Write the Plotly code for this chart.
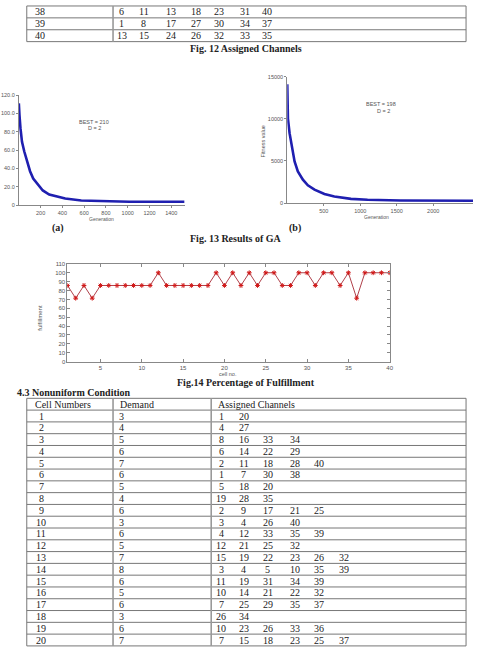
import plotly.graph_objects as go

W, H = 477, 650

def px(x):
    return x / W

def py(y):
    return 1 - y / H

# ---------------- data ----------------
# Fig 12 table tail
top_cells = ["38", "39", "40"]
top_channels = [
    ["6", "11", "13", "18", "23", "31", "40"],
    ["1", "8", "17", "27", "30", "34", "37"],
    ["13", "15", "24", "26", "32", "33", "35"],
]

# Fig 13 (a) GA convergence
ga_a_gen = [0, 2, 6, 15, 29, 50, 74, 103, 132, 176, 220, 279, 353, 426, 573, 720, 1014, 1308, 1520]
ga_a_val = [111, 104, 98, 84, 69, 58.5, 48, 37, 29, 22, 16, 11.6, 9, 7.2, 5, 4.3, 3.6, 3.6, 3.6]
ga_a_xticks = [200, 400, 600, 800, 1000, 1200, 1400]
ga_a_yticks = [0, 20, 40, 60, 80, 100, 120]
ga_a_ytext = ["0", "20.0", "40.0", "60.0", "80.0", "100.0", "120.0"]

# Fig 13 (b) GA convergence
ga_b_gen = [0, 2, 5, 9, 32, 64, 100, 145, 214, 282, 373, 509, 645, 873, 1100, 1554, 2009, 2545]
ga_b_val = [14100, 13000, 12000, 10025, 8263, 6500, 4934, 3760, 2780, 2115, 1605, 1096, 783, 509, 392, 313, 274, 274]
ga_b_xticks = [500, 1000, 1500, 2000]
ga_b_yticks = [0, 5000, 10000, 15000]

# Fig 14 percentage of fulfillment
cells = list(range(1, 41))
fulfil = [85.7, 71.4, 85.7, 71.4, 85.7, 85.7, 85.7, 85.7, 85.7, 85.7,
          85.7, 100, 85.7, 85.7, 85.7, 85.7, 85.7, 85.7, 100, 85.7,
          100, 85.7, 100, 85.7, 100, 100, 85.7, 85.7, 100, 100,
          85.7, 100, 100, 85.7, 100, 71.4, 100, 100, 100, 100]
f_yticks = list(range(0, 111, 10))
f_xticks = [5, 10, 15, 20, 25, 30, 35, 40]

# 4.3 Nonuniform table
headers = ["Cell Numbers", "Demand", "Assigned Channels"]
nu_cells = [str(i) for i in range(1, 21)]
nu_demand = ["3", "4", "5", "6", "7", "6", "5", "4", "6", "3",
             "6", "5", "7", "8", "6", "5", "6", "3", "6", "7"]
nu_assigned = [
    ["1", "20"], ["4", "27"], ["8", "16", "33", "34"], ["6", "14", "22", "29"],
    ["2", "11", "18", "28", "40"], ["1", "7", "30", "38"], ["5", "18", "20"],
    ["19", "28", "35"], ["2", "9", "17", "21", "25"], ["3", "4", "26", "40"],
    ["4", "12", "33", "35", "39"], ["12", "21", "25", "32"],
    ["15", "19", "22", "23", "26", "32"], ["3", "4", "5", "10", "35", "39"],
    ["11", "19", "31", "34", "39"], ["10", "14", "21", "22", "32"],
    ["7", "25", "29", "35", "37"], ["26", "34"], ["10", "23", "26", "33", "36"],
    ["7", "15", "18", "23", "25", "37"],
]

# ---------------- figure ----------------
fig = go.Figure()

blue = "#1f1fb0"
fig.add_trace(go.Scatter(x=ga_a_gen, y=ga_a_val, mode="lines", line=dict(color=blue, width=2.6),
                         xaxis="x", yaxis="y", showlegend=False))
fig.add_trace(go.Scatter(x=ga_b_gen, y=ga_b_val, mode="lines", line=dict(color=blue, width=2.6),
                         xaxis="x2", yaxis="y2", showlegend=False))
fig.add_trace(go.Scatter(x=cells, y=fulfil, mode="lines+markers",
                         line=dict(color="#b0404a", width=1),
                         marker=dict(symbol="asterisk-open", size=4, color="#d01818",
                                     line=dict(width=1, color="#d01818")),
                         xaxis="x3", yaxis="y3", showlegend=False))

small = dict(family="Liberation Sans, Arial", size=5.5, color="#555")
tiny_axis = dict(showgrid=False, zeroline=False, showline=True, linecolor="#888", linewidth=1,
                 ticks="outside", ticklen=2, tickcolor="#888", tickfont=small)

serif = "Liberation Serif, Times New Roman"
f14font = dict(family="Liberation Sans, Arial", size=6, color="#555")

fig.update_layout(
    width=W, height=H, autosize=False,
    margin=dict(l=0, r=0, t=0, b=0),
    paper_bgcolor="white", plot_bgcolor="white",
    xaxis=dict(domain=[px(19), px(187)], range=[0, 1530], anchor="y",
               tickvals=ga_a_xticks, **tiny_axis),
    yaxis=dict(domain=[py(204), py(93)], range=[0, 120], anchor="x",
               tickvals=ga_a_yticks, ticktext=ga_a_ytext, **tiny_axis),
    xaxis2=dict(domain=[px(289.7), 1.0], range=[0, 2545], anchor="y2",
                tickvals=ga_b_xticks, tickformat="d", **tiny_axis),
    yaxis2=dict(domain=[py(202), py(74.3)], range=[0, 15000], anchor="x2",
                tickvals=ga_b_yticks, tickformat="d", **tiny_axis),
    xaxis3=dict(domain=[px(68), px(393)], range=[1, 40], anchor="y3",
                tickvals=f_xticks, showgrid=False, zeroline=False, showline=True,
                linecolor="#888", linewidth=1, mirror="ticks", ticks="inside", ticklen=3,
                tickcolor="#888", tickfont=f14font),
    yaxis3=dict(domain=[py(362), py(263.3)], range=[0, 110], anchor="x3",
                tickvals=f_yticks, showgrid=False, zeroline=False, showline=True,
                linecolor="#888", linewidth=1, mirror="ticks", ticks="inside", ticklen=3,
                tickcolor="#888", tickfont=f14font),
)

shapes = []
annotations = []

def hline(x0, x1, y, color="#777", w=1):
    shapes.append(dict(type="line", xref="paper", yref="paper", x0=px(x0), x1=px(x1),
                       y0=py(y), y1=py(y), line=dict(color=color, width=w)))

def vline(x, y0, y1, color="#777", w=1):
    shapes.append(dict(type="line", xref="paper", yref="paper", x0=px(x), x1=px(x),
                       y0=py(y0), y1=py(y1), line=dict(color=color, width=w)))

def text(x, y, s, size=10, anchor="left", bold=False, family=serif, color="#222", angle=0):
    annotations.append(dict(xref="paper", yref="paper", x=px(x), y=py(y),
                            text=("<b>%s</b>" % s) if bold else s, showarrow=False,
                            xanchor=anchor, yanchor="middle", textangle=angle,
                            font=dict(family=family, size=size, color=color)))

# ---- Top table (Fig 12 tail) ----
top_lines = [3, 15, 27, 39]
for y in top_lines:
    hline(27, 470, y)
vline(27, 3, 39)
vline(114, 3, 39, color="#999", w=1.6)
vline(470, 3, 39)
top_xs = [123, 145, 172, 198, 221, 247, 269]
for i, (c, chans) in enumerate(zip(top_cells, top_channels)):
    yc = 9 + i * 12
    text(33, yc, c)
    for j, ch in enumerate(chans):
        text(top_xs[j], yc, ch, anchor="center")
text(248, 46, "Fig. 12 Assigned Channels", bold=True, anchor="center")

# ---- Fig 13 labels ----
sans = "Liberation Sans, Arial"
text(95, 120, "BEST = 210", size=5.5, anchor="center", family=sans, color="#555")
text(95, 126.5, "D = 2", size=5.5, anchor="center", family=sans, color="#555")
text(102, 218, "Generation", size=5, anchor="center", family=sans, color="#555")
text(384, 102, "BEST = 198", size=5.5, anchor="center", family=sans, color="#555")
text(387, 109, "D = 2", size=5.5, anchor="center", family=sans, color="#555")
text(380, 216, "Generation", size=5, anchor="center", family=sans, color="#555")
text(265, 140, "Fitness value", size=5.5, anchor="center", family=sans, color="#555", angle=-90)
text(58, 227, "(a)", bold=True, anchor="center")
text(297, 227, "(b)", bold=True, anchor="center")
text(238, 238, "Fig. 13 Results of GA", bold=True, anchor="center")

# ---- Fig 14 labels ----
text(230, 374, "cell no.", size=5.5, anchor="center", family=sans, color="#555")
text(40, 318, "fulfillment", size=6, anchor="center", family=sans, color="#555", angle=-90)
text(248, 383, "Fig.14 Percentage of Fulfillment", bold=True, anchor="center")
text(15, 393.5, "4.3 Nonuniform Condition", bold=True)

# ---- Bottom table ----
rh = 11.9
ytop = 399
nrows = 21
for k in range(nrows + 1):
    hline(27, 470, ytop + k * rh)
ybot = ytop + nrows * rh
vline(27, ytop, ybot)
vline(114, ytop, ybot, color="#999", w=1.6)
vline(213, ytop, ybot, color="#999", w=1.6)
vline(470, ytop, ybot)
text(33, ytop + rh / 2, headers[0])
text(119, ytop + rh / 2, headers[1])
text(218, ytop + rh / 2, headers[2])
nu_xs = [223, 246, 270, 297, 322, 347]
for i in range(20):
    yc = ytop + rh * (i + 1) + rh / 2
    text(41.5, yc, nu_cells[i], anchor="center")
    text(123, yc, nu_demand[i], anchor="center")
    for j, ch in enumerate(nu_assigned[i]):
        text(nu_xs[j], yc, ch, anchor="center")

fig.update_layout(shapes=shapes, annotations=annotations)
fig.write_html("out.html")
